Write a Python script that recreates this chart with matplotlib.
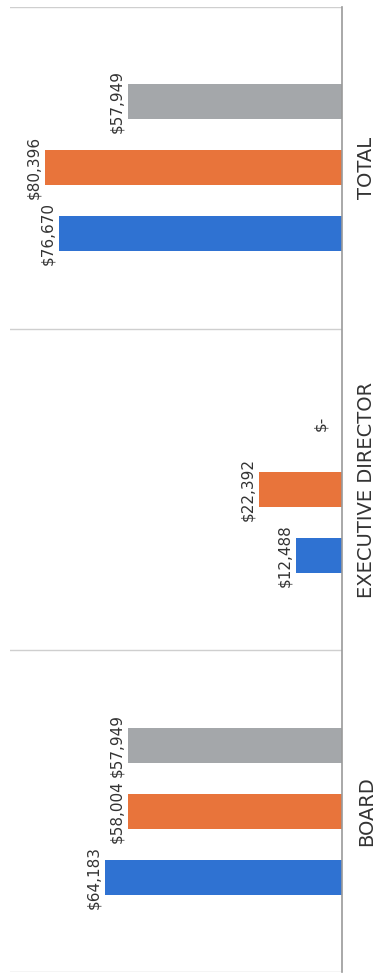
import matplotlib
matplotlib.use("Agg")
import matplotlib.pyplot as plt
import numpy as np

# salary comparison (chart is scanned sideways, so bars run right-to-left)
categories = ["BOARD", "EXECUTIVE DIRECTOR", "TOTAL"]
series_blue = [64183, 12488, 76670]
series_orange = [58004, 22392, 80396]
series_gray = [57949, 0, 57949]

colors = ["#2f72d2", "#e8743b", "#a4a7aa"]

fig = plt.figure(figsize=(3.81, 9.75), dpi=100)
ax = fig.add_axes([10 / 381, 3 / 975, 332 / 381, 965 / 975])

y = np.arange(len(categories))
step = 0.205
h = 0.109

for k, (vals, col) in enumerate(zip([series_blue, series_orange, series_gray], colors)):
    pos = y + (k - 1) * step
    ax.barh(pos, vals, height=h, color=col, zorder=3)
    for p, v in zip(pos, vals):
        label = "$-" if v == 0 else "${:,}".format(v)
        ax.annotate(label, (v, p), xytext=(-3 if v else -10, 0), textcoords="offset points",
                    rotation=90, ha="right", va="center", fontsize=11, color="#333333")

ax.set_xlim(90000, 0)
ax.set_ylim(-0.5, 2.5)

# category separators
for b in [-0.5, 0.5, 1.5, 2.5]:
    ax.axhline(b, color="#cfcfcf", lw=1, zorder=1)
ax.axvline(0, color="#9a9a9a", lw=1.2, zorder=4, clip_on=False)

for s in ax.spines.values():
    s.set_visible(False)
ax.set_xticks([])
ax.yaxis.tick_right()
ax.set_yticks(y)
ax.set_yticklabels(categories, rotation=90, fontsize=14, color="#333333", va="center")
ax.tick_params(axis="y", length=0, pad=11)

plt.savefig("out.png", dpi=100)
